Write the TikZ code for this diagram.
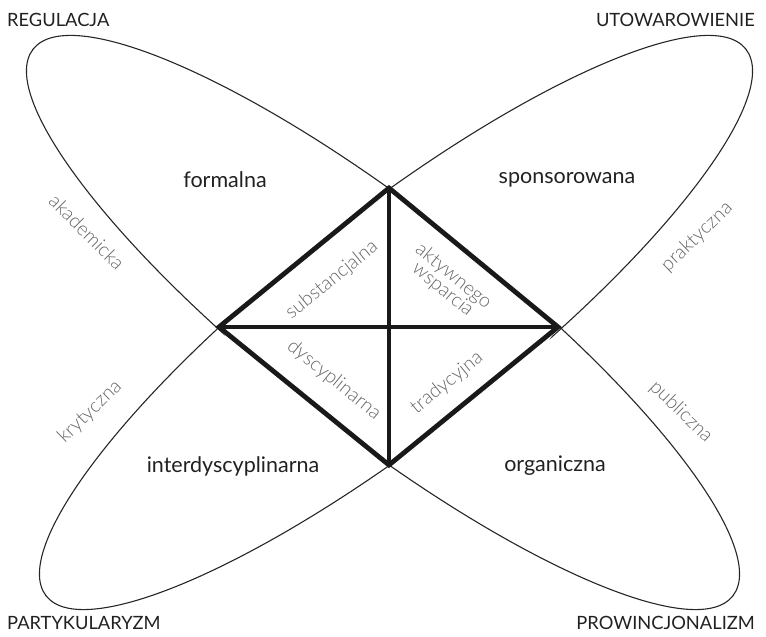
\documentclass[tikz,border=0pt]{standalone}
\usepackage{fontspec}
\setmainfont{Lato}
\newfontfamily\lightfont{Lato Light}
\usepackage{tikz}
\definecolor{inkGray}{gray}{0.13}
\definecolor{labelGray}{gray}{0.4}
\tikzset{
  lobe/.style={line width=1.1pt, black!85},
  bar/.style={line width=4.8pt, black!90},
  corner/.style={font=\fontsize{18.3}{21}\selectfont, text=inkGray},
  field/.style={font=\fontsize{21.5}{24}\selectfont, text=inkGray},
  side/.style={font=\lightfont\fontsize{19.5}{21}\selectfont, text=labelGray, align=center}
}

\begin{document}
\begin{tikzpicture}[x=1pt, y=1pt, every node/.style={inner sep=0pt}]
  \useasboundingbox (-389,-310) rectangle (377,327);
  % diamond corners
  \coordinate (C) at (0,0);
  \coordinate (T) at (0,139);
  \coordinate (B) at (0,-138);
  \coordinate (L) at (-170,0);
  \coordinate (R) at (169,0);
  % the two long ellipses, kept out of the diamond
  \begin{scope}[even odd rule]
    \clip (-389,-310) rectangle (377,327)
      (L) -- (-154.7,22.9) -- (-25.5,128.5) -- (T) -- (25.4,128.5) -- (153.8,22.9)
      -- (R) -- (153.8,-22.8) -- (25.4,-127.6) -- (B) -- (-25.4,-127.6) -- (-154.6,-22.8) -- cycle;
    \draw[lobe, rotate around={-38:(-6,4.5)}] (-6,4.5) ellipse [x radius=444, y radius=111];
    \draw[lobe, rotate around={38:(7,4.5)}] (7,4.5) ellipse [x radius=444, y radius=111];
  \end{scope}
  \draw[bar, line join=miter] (L) -- (T) -- (R) -- (B) -- cycle;
  \draw[bar] (L) -- (R);
  \draw[bar] (T) -- (B);

  \node[corner, anchor=west] (reg) at (-382,307) {REGULACJA};
  \node[corner, anchor=east] (uto) at (366,307) {UTOWAROWIENIE};
  \node[corner, anchor=west] (par) at (-382,-296) {PARTYKULARYZM};
  \node[corner, anchor=east] (pro) at (366,-296) {PROWINCJONALIZM};

  \node[field] (formalna) at (-164,147) {formalna};
  \node[field] (sponsor) at (178,147) {sponsorowana};
  \node[field] (interdys) at (-156,-139) {interdyscyplinarna};
  \node[field] (organ) at (166,-139) {organiczna};

  \node[side, rotate=-45] (akad) at (-302,95) {akademicka};
  \node[side, rotate=44] (kryt) at (-299,-85) {krytyczna};
  \node[side, rotate=44] (prakt) at (308,90) {praktyczna};
  \node[side, rotate=-44] (publ) at (292,-85) {publiczna};

  \node[side, rotate=39] (subst) at (-57,47) {substancjalna};
  \node[side, rotate=-39] (aktyw) at (59,44) {aktywnego\\[-4pt]wsparcia};
  \node[side, rotate=-39] (dyscyp) at (-55,-53) {dyscyplinarna};
  \node[side, rotate=39] (trad) at (58,-56) {tradycyjna};
\end{tikzpicture}
\end{document}
